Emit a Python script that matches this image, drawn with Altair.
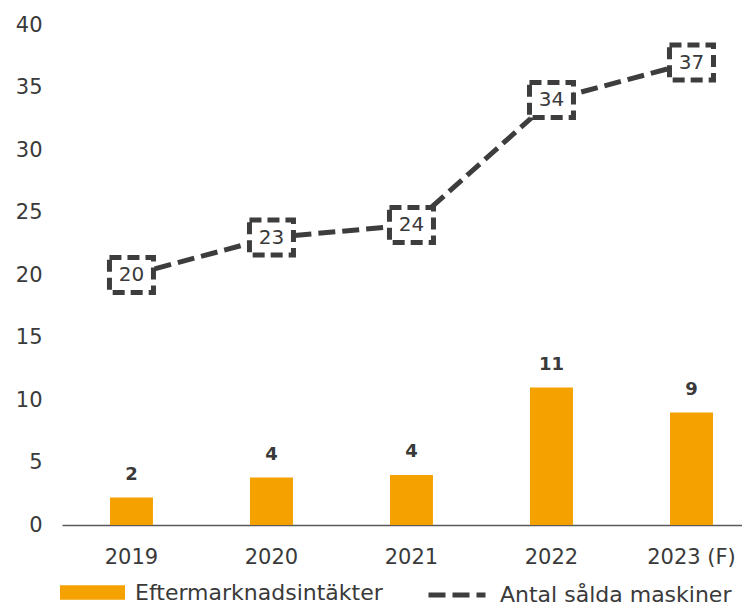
import altair as alt
import pandas as pd

years = ["2019", "2020", "2021", "2022", "2023 (F)"]
revenue = [2.2, 3.8, 4.0, 11.0, 9.0]
revenue_labels = ["2", "4", "4", "11", "9"]
machines = [20, 23, 24, 34, 37]
machine_labels = ["20", "23", "24", "34", "37"]
y_ticks = [0, 5, 10, 15, 20, 25, 30, 35, 40]
series_bar = "Eftermarknadsintäkter"
series_line = "Antal sålda maskiner"

ORANGE = "#F5A200"
DARK = "#3d3d3d"
TEXT = "#3a3a3a"
FONT = "DejaVu Sans"

df = pd.DataFrame({
    "year": years,
    "rev": revenue,
    "rev_lbl": revenue_labels,
    "mach": machines,
    "mach_lbl": machine_labels,
    "s1": [series_bar] * len(years),
    "s2": [series_line] * len(years),
})

base = alt.Chart(df)

x = alt.X(
    "year:N", sort=years, title=None,
    scale=alt.Scale(paddingInner=0.693, paddingOuter=0.275, align=0.623),
    axis=alt.Axis(labelAngle=0, ticks=False, domainColor="#5a5a5a", domainWidth=1.5,
                  labelFontSize=21, labelPadding=21, labelColor=TEXT, labelFont=FONT,
                  grid=False),
)
yscale = alt.Scale(domain=[0, 40], nice=False, zero=True)
yaxis = alt.Axis(values=y_ticks, title=None, domain=False, ticks=False, grid=False,
                 labelFontSize=21, labelPadding=20, labelColor=TEXT, labelFont=FONT)

bars = base.mark_bar().encode(
    x=x,
    y=alt.Y("rev:Q", scale=yscale, axis=yaxis),
    color=alt.Color("s1:N", scale=alt.Scale(range=[ORANGE]),
                    legend=alt.Legend(orient="none", legendX=-2, legendY=535, title=None,
                                      symbolType="M-1,-0.22H1V0.22H-1Z", symbolSize=4225,
                                      symbolStrokeWidth=0, symbolOpacity=1,
                                      labelFontSize=22, labelFont=FONT, labelColor=TEXT,
                                      labelOffset=10, labelLimit=500, padding=0)),
)

bar_text = base.mark_text(fontSize=18, fontWeight="bold", font=FONT, color=TEXT,
                          baseline="alphabetic", dy=-18).encode(
    x=x, y=alt.Y("rev:Q", scale=yscale), text="rev_lbl:N")

line = base.mark_line(color=DARK, strokeWidth=5).encode(
    x=x,
    y=alt.Y("mach:Q", scale=yscale),
    strokeDash=alt.StrokeDash("s2:N", scale=alt.Scale(range=[[17, 7]]),
                              legend=alt.Legend(orient="none", legendX=364, legendY=539,
                                                title=None, symbolType="stroke",
                                                symbolSize=3249, symbolStrokeWidth=5,
                                                symbolStrokeColor=DARK,
                                                labelFontSize=22, labelFont=FONT,
                                                labelColor=TEXT, labelOffset=12,
                                                labelLimit=500, padding=0)),
)

boxes = base.mark_point(shape="M-1,-0.8H1V0.8H-1Z", size=1936, filled=True, fill="white",
                        stroke=DARK, strokeWidth=5, strokeDash=[12, 6], opacity=1).encode(
    x=x, y=alt.Y("mach:Q", scale=yscale))

box_text = base.mark_text(fontSize=20, font=FONT, color=TEXT, baseline="middle").encode(
    x=x, y=alt.Y("mach:Q", scale=yscale), text="mach_lbl:N")

chart = alt.layer(bars, bar_text, line, boxes, box_text).properties(
    width=680, height=500,
    padding={"left": 54, "top": 17, "right": 0, "bottom": 81},
    autosize=alt.AutoSizeParams(type="none"),
    background="white",
).configure_view(stroke=None)

chart.save("out.html", embed_options={"renderer": "svg", "actions": False})
